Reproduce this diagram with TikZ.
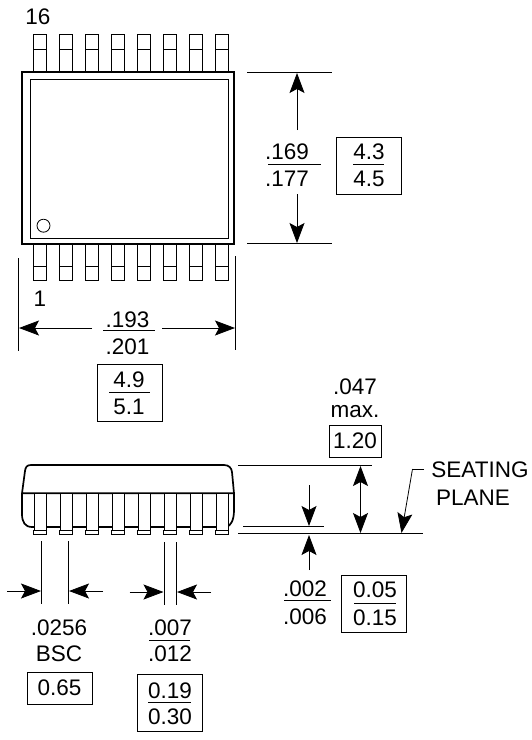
\documentclass[tikz,border=0pt]{standalone}
\usepackage{fontspec}
\setmainfont{Liberation Sans}
\usetikzlibrary{arrows.meta}
\usetikzlibrary{positioning}

\begin{document}
\begin{tikzpicture}[x=1pt, y=-1pt]
        \tikzset{every node/.style={font=\fontsize{22.5}{26}\selectfont, inner sep=0pt, text height=16pt, text depth=0pt},
                >={Stealth[black, length=20pt, width=15pt, inset=4pt]},
                every edge/.style={draw=black, line width=0.8pt},
                dimbox/.style={draw, line width=0.9pt, text height=, text depth=},
                thinline/.style={line width=0.8pt},
                bodyline/.style={line width=1.7pt}}

        \useasboundingbox (0, 0) rectangle (531, 740);

        % top view
        \draw[bodyline] (22, 72) rectangle (234, 244);
        \draw[line width=1pt] (30, 79) rectangle (228, 238);
        \draw[thinline] (43.5, 225.7) circle (6.5);
        \foreach \pinx in {33.5, 59.6, 85.6, 111.6, 137.6, 163.6, 189.6, 215.7} {
            \draw[thinline] (\pinx, 72) -- (\pinx, 34) -- ++(12.7, 0) -- ++(0, 38);
            \draw[thinline] (\pinx, 49.3) -- ++(12.7, 0);
            \draw[thinline] (\pinx, 244) -- (\pinx, 280.7) -- ++(12.7, 0) -- ++(0, -36.7);
            \draw[thinline] (\pinx, 266) -- ++(12.7, 0);
        }
        \node (pin16) at (38, 16) {16};
        \node (pin1) at (40, 298) {1};

        % side view
        \draw[bodyline] (22, 493.3) -- (25, 471) .. controls (25.5, 467) and (27, 465) .. (31, 465)
            -- (224, 465) .. controls (229, 465) and (231.5, 468) .. (232, 472) -- (234, 493.3) -- cycle;
        \draw[bodyline] (22, 493.3) -- (22, 514) .. controls (22, 522) and (25, 527) .. (32, 527)
            -- (226, 527) .. controls (231, 526) and (234, 520) .. (234, 510) -- (234, 493.3);
        \foreach \pinx in {34, 60, 86, 112, 138, 164, 190, 216} {
            \draw[thinline, fill=white] (\pinx - 0.7, 530) rectangle ++(13.4, 4);
            \draw[thinline, fill=white] (\pinx, 493) rectangle ++(12, 37);
        }

        % width of the package
        \coordinate (wl1) at (18.5, 258);
        \coordinate (wl2) at (18.5, 351);
        \coordinate (wr1) at (235.5, 256);
        \coordinate (wr2) at (235.5, 350);
        \coordinate (wa1) at (92, 328);
        \coordinate (wa2) at (19, 328);
        \coordinate (wa3) at (162, 328);
        \coordinate (wa4) at (235, 328);
        \path (wl1) edge (wl2);
        \path (wr1) edge (wr2);
        \path [->] (wa1) edge (wa2);
        \path [->] (wa3) edge (wa4);
        \node (w193) at (127.5, 319) {.193};
        \node (w201) at (127.5, 346) {.201};
        \draw[thinline] (103, 330.5) -- (155, 330.5);
        \node[dimbox, minimum width=65pt, minimum height=57pt] (wbox) at (129.5, 392.5) {};
        \node (w49) at (129, 379) {4.9};
        \node (w51) at (129, 406) {5.1};
        \draw[thinline] (109, 392.5) -- (150, 392.5);

        % height of the package
        \coordinate (ht1) at (247, 72);
        \coordinate (ht2) at (332, 72);
        \coordinate (hb1) at (247, 243.5);
        \coordinate (hb2) at (332, 243.5);
        \coordinate (ha1) at (297, 130);
        \coordinate (ha2) at (297, 73);
        \coordinate (ha3) at (297, 194);
        \coordinate (ha4) at (297, 243);
        \path (ht1) edge (ht2);
        \path (hb1) edge (hb2);
        \path [->] (ha1) edge (ha2);
        \path [->] (ha3) edge (ha4);
        \node (h169) at (287, 151) {.169};
        \node (h177) at (287, 178) {.177};
        \draw[thinline] (268, 164) -- (321, 164);
        \node[dimbox, minimum width=65pt, minimum height=57pt] (hbox) at (368.5, 165.5) {};
        \node (h43) at (369, 151) {4.3};
        \node (h45) at (369, 178) {4.5};
        \draw[thinline] (353, 164) -- (384, 164);

        % lead pitch
        \coordinate (pl1) at (41.5, 541);
        \coordinate (pl2) at (41.5, 604);
        \coordinate (pr1) at (68.3, 541);
        \coordinate (pr2) at (68.3, 604);
        \coordinate (pa1) at (7, 591);
        \coordinate (pa2) at (41, 591);
        \coordinate (pa3) at (103, 591);
        \coordinate (pa4) at (69, 591);
        \path (pl1) edge (pl2);
        \path (pr1) edge (pr2);
        \path [->] (pa1) edge (pa2);
        \path [->] (pa3) edge (pa4);
        \node (p0256) at (59, 627) {.0256};
        \node (pbsc) at (59, 653) {BSC};
        \node[dimbox, minimum width=65pt, minimum height=32pt] (p065) at (59.5, 688) {0.65};

        % lead width
        \coordinate (ll1) at (164, 542);
        \coordinate (ll2) at (164, 605);
        \coordinate (lr1) at (176.3, 542);
        \coordinate (lr2) at (176.3, 605);
        \coordinate (la1) at (129.5, 592);
        \coordinate (la2) at (163.5, 592);
        \coordinate (la3) at (211, 592);
        \coordinate (la4) at (177, 592);
        \path (ll1) edge (ll2);
        \path (lr1) edge (lr2);
        \path [->] (la1) edge (la2);
        \path [->] (la3) edge (la4);
        \node (l007) at (170, 627) {.007};
        \node (l012) at (170, 653) {.012};
        \draw[thinline] (149, 640) -- (190, 640);
        \node[dimbox, minimum width=65pt, minimum height=57pt] (lbox) at (169.5, 703) {};
        \node (l019) at (170, 690) {0.19};
        \node (l030) at (170, 716) {0.30};
        \draw[thinline] (148, 702.5) -- (191, 702.5);

        % overall thickness and seating plane
        \coordinate (st1) at (238, 465);
        \coordinate (st2) at (372, 465);
        \coordinate (sb1) at (238, 533.7);
        \coordinate (sb2) at (423, 533.7);
        \coordinate (so1) at (243, 526.3);
        \coordinate (so2) at (324, 526.3);
        \coordinate (sa1) at (360.5, 466);
        \coordinate (sa2) at (360.5, 533);
        \coordinate (oa1) at (309, 485);
        \coordinate (oa2) at (309, 526);
        \coordinate (oa3) at (309, 570);
        \coordinate (oa4) at (309, 535);
        \coordinate (pa5) at (424, 469);
        \coordinate (pa6) at (412.5, 469);
        \coordinate (pa7) at (401.5, 533);
        \path (st1) edge (st2);
        \path (sb1) edge (sb2);
        \path (so1) edge (so2);
        \path [<->] (sa1) edge (sa2);
        \path [->] (oa1) edge (oa2);
        \path [->] (oa3) edge (oa4);
        \path (pa5) edge (pa6);
        \path [->] (pa6) edge (pa7);
        \node (s047) at (355, 386) {.047};
        \node (smax) at (355, 409) {max.};
        \node[dimbox, minimum width=52pt, minimum height=32pt] (s120) at (355, 441) {1.20};
        \node (seating) at (480, 469) {SEATING};
        \node (plane) at (473, 497) {PLANE};
        \node (o002) at (305, 588) {.002};
        \node (o006) at (305, 616) {.006};
        \draw[thinline] (284, 600) -- (331, 600);
        \node[dimbox, minimum width=65pt, minimum height=57pt] (obox) at (374, 603.5) {};
        \node (o005) at (375, 589) {0.05};
        \node (o015) at (375, 617) {0.15};
        \draw[thinline] (354, 603) -- (396, 603);

\end{tikzpicture}
\end{document}
